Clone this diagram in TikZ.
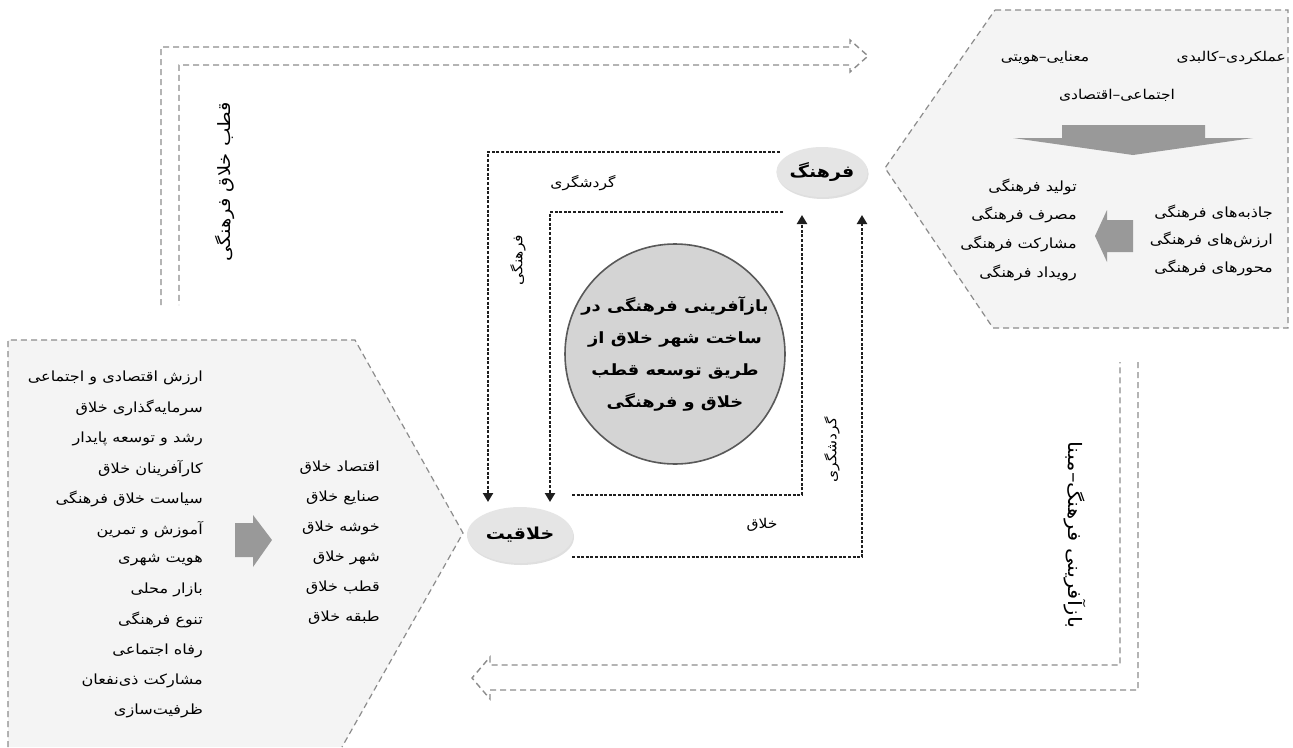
\documentclass[tikz,border=0pt]{standalone}
\usepackage{fontspec}
\newfontfamily\fa[Script=Arabic,FakeStretch=1.15]{DejaVu Sans}
\TeXXeTstate=1
\usetikzlibrary{shapes.geometric,arrows.meta,shadows}
\newcommand\pr[1]{\beginR #1\endR}
\definecolor{dotc}{HTML}{1E1E1E}
\definecolor{dashc}{HTML}{8C8C8C}
\definecolor{hexfill}{HTML}{F4F4F4}
\definecolor{arrfill}{HTML}{999999}
\begin{document}
\begin{tikzpicture}[x=1pt,y=-1pt,
  conn/.style={draw=dotc,line width=2.6pt,dash pattern=on 3pt off 1.6pt},
  tip/.style={-{Triangle[width=10pt,length=9pt]}},
  bigarr/.style={draw=dashc,line width=1.4pt,dash pattern=on 6pt off 4pt},
  hexa/.style={draw=dashc,line width=1.2pt,dash pattern=on 6pt off 4pt,fill=hexfill},
  lst/.style={anchor=east,inner sep=0pt,font=\fa\fontsize{14}{16}\selectfont},
  lbl/.style={inner sep=0pt,font=\fa\fontsize{13.5}{15}\selectfont},
  oval/.style={ellipse,fill=black!10,inner sep=0pt,drop shadow={opacity=0.25,shadow xshift=1pt,shadow yshift=-2pt},font=\fa\bfseries\fontsize{16.5}{18}\selectfont},
  garr/.style={fill=arrfill,draw=none}]
\useasboundingbox (0,0) rectangle (1293,747);
\fill[white] (0,0) rectangle (1293,747);

% hexagons
\path[hexa] (995,10) -- (1288,10) -- (1288,328) -- (993,328) -- (885,168) -- cycle;
\path[hexa] (8,747) -- (8,340) -- (355,340) -- (463,533) -- (342,747);

% top-right hexagon content
\node[lbl,anchor=east] (t1) at (1286,58) {\pr{عملکردی–کالبدی}};
\node[lbl] (t2) at (1045,58) {\pr{معنایی–هویتی}};
\node[lbl] (t3) at (1117,95) {\pr{اجتماعی–اقتصادی}};
\path[garr] (1062,125) -- (1205,125) -- (1205,138) -- (1253,138) -- (1133,155) -- (1013,138) -- (1062,138) -- cycle;
\node[lst] (r1) at (1273,213) {\pr{جاذبه‌های فرهنگی}};
\node[lst] (r2) at (1273,240) {\pr{ارزش‌های فرهنگی}};
\node[lst] (r3) at (1273,268) {\pr{محورهای فرهنگی}};
\path[garr] (1133,220) -- (1107,220) -- (1107,210) -- (1095,236) -- (1107,262) -- (1107,252) -- (1133,252) -- cycle;
\node[lst] (l1) at (1077,187) {\pr{تولید فرهنگی}};
\node[lst] (l2) at (1077,215) {\pr{مصرف فرهنگی}};
\node[lst] (l3) at (1077,244) {\pr{مشارکت فرهنگی}};
\node[lst] (l4) at (1077,273) {\pr{رویداد فرهنگی}};

% left hexagon content
\foreach \t [count=\i from 0] in {ارزش اقتصادی و اجتماعی,سرمایه‌گذاری خلاق,رشد و توسعه پایدار,کارآفرینان خلاق,سیاست خلاق فرهنگی,آموزش و تمرین,هویت شهری,بازار محلی,تنوع فرهنگی,رفاه اجتماعی,مشارکت ذی‌نفعان,ظرفیت‌سازی}
  \node[lst] (a\i) at (203,378+30.3*\i) {\pr{\t}};
\path[garr] (235,523) -- (253,523) -- (253,515) -- (272,540) -- (253,567) -- (253,557) -- (235,557) -- cycle;
\foreach \t [count=\i from 0] in {اقتصاد خلاق,صنایع خلاق,خوشه خلاق,شهر خلاق,قطب خلاق,طبقه خلاق}
  \node[lst] (m\i) at (380,468+30*\i) {\pr{\t}};

% big hollow arrows
\draw[bigarr] (161,305) -- (161,47) -- (850,47) -- (850,40) -- (868,56) -- (850,72) -- (850,65) -- (179,65) -- (179,305);
\draw[bigarr] (1138,362) -- (1138,690) -- (490,690) -- (490,699) -- (472,678) -- (490,657) -- (490,665) -- (1120,665) -- (1120,362);
\node[rotate=90,inner sep=0pt,font=\fa\fontsize{17}{19}\selectfont] (ql) at (225,182) {\pr{قطب خلاق فرهنگی}};
\node[rotate=-90,inner sep=0pt,font=\fa\fontsize{18.5}{20}\selectfont] (qr) at (1075,535) {\pr{بازآفرینی فرهنگ–مبنا}};

% center
\node[circle,draw=black!65,line width=1.6pt,fill=black!17,minimum size=220pt,inner sep=0pt,
  align=center,font=\fa\bfseries\fontsize{15.5}{32}\selectfont] (c) at (675,354)
  {\pr{بازآفرینی فرهنگی در}\\\pr{ساخت شهر خلاق از}\\\pr{طریق توسعه قطب}\\\pr{خلاق و فرهنگی}};

\node[oval,minimum width=90pt,minimum height=50pt] (fer) at (822,172) {\pr{فرهنگ}};
\node[oval,minimum width=106pt,minimum height=56pt] (kha) at (520,535) {\pr{خلاقیت}};

\coordinate (A0) at (780,152);
\coordinate (A1) at (488,502);
\coordinate (B0) at (783,212);
\coordinate (B1) at (550,502);
\coordinate (C0) at (572,495);
\coordinate (C1) at (802,215);
\coordinate (D0) at (572,557);
\coordinate (D1) at (862,215);
\draw[conn,tip] (A0) -| (A1);
\draw[conn,tip] (B0) -| (B1);
\draw[conn,tip] (C0) -| (C1);
\draw[conn,tip] (D0) -| (D1);

\node[lbl] (g1) at (583,183) {\pr{گردشگری}};
\node[lbl,rotate=90] (g2) at (518,260) {\pr{فرهنگی}};
\node[lbl,rotate=90] (g3) at (832,450) {\pr{گردشگری}};
\node[lbl] (g4) at (762,525) {\pr{خلاق}};
\end{tikzpicture}
\end{document}
